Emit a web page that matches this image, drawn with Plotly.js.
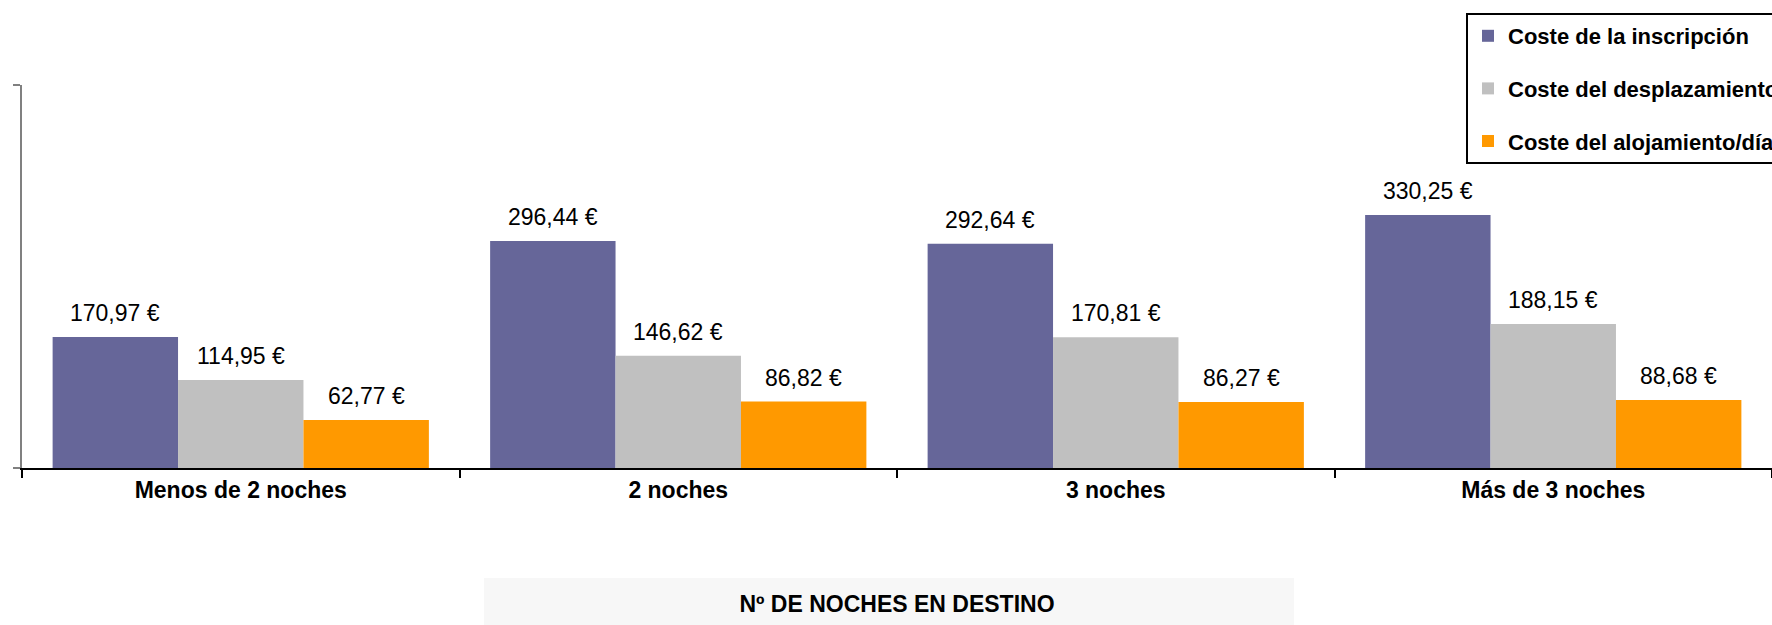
<!DOCTYPE html>
<html>
<head>
<meta charset="utf-8">
<script src="https://cdn.plot.ly/plotly-3.0.1.min.js"></script>
<style>html,body{margin:0;padding:0;overflow:hidden;background:#fff}</style>
</head>
<body>
<div id="chart" style="width:1772px;height:625px"></div>
<script>
const categories = ["Menos de 2 noches", "2 noches", "3 noches", "Más de 3 noches"];
const seriesNames = ["Coste de la inscripción", "Coste del desplazamiento", "Coste del alojamiento/día"];
const inscripcion = [170.97, 296.44, 292.64, 330.25];
const desplazamiento = [114.95, 146.62, 170.81, 188.15];
const alojamiento = [62.77, 86.82, 86.27, 88.68];
const colors = ["#666699", "#C0C0C0", "#FF9900"];
const xTitle = "Nº DE NOCHES EN DESTINO";

const FONT = '"Liberation Sans", Arial, sans-serif';
const allSeries = [inscripcion, desplazamiento, alojamiento];
const bargap = 0.14;

const traces = allSeries.map((vals, i) => ({
  type: 'bar',
  name: seriesNames[i],
  x: categories,
  y: vals,
  marker: {color: colors[i], line: {width: 0}},
  legendgroup: 'g' + i,
  hoverinfo: 'x+y+name'
}));

const nS = allSeries.length;
const barW = (1 - bargap) / nS;
const annotations = [];
allSeries.forEach((vals, i) => {
  vals.forEach((v, j) => {
    annotations.push({
      xref: 'x', yref: 'y',
      x: j + (i - (nS - 1) / 2) * barW,
      y: v,
      text: v.toFixed(2).replace('.', ',') + ' €',
      showarrow: false,
      xanchor: 'center', yanchor: 'bottom',
      yshift: 9,
      font: {family: FONT, size: 23, color: '#000'}
    });
  });
});

const layout = {
  width: 1772, height: 625,
  margin: {l: 22, r: 0, t: 85, b: 157, autoexpand: false},
  paper_bgcolor: '#fff', plot_bgcolor: '#fff',
  barmode: 'group', bargap: bargap, bargroupgap: 0,
  showlegend: true,
  legend: {
    x: (1466 - 22) / 1750, xanchor: 'left',
    y: (468 - 13) / 383, yanchor: 'top',
    bordercolor: '#000', borderwidth: 2, bgcolor: '#fff',
    font: {family: FONT, size: 22, color: '#000', weight: 'bold'},
    tracegroupgap: 21
  },
  xaxis: {
    type: 'category',
    showline: true, linecolor: '#000', linewidth: 2,
    ticks: 'outside', tickson: 'boundaries', ticklen: 8, tickwidth: 2, tickcolor: '#000',
    tickfont: {family: FONT, size: 23, color: '#000', weight: 'bold'},
    showgrid: false, zeroline: false,
    title: {text: xTitle, font: {family: FONT, size: 23, color: '#000', weight: 'bold'}, standoff: 94},
    automargin: false
  },
  yaxis: {
    range: [0, 500],
    showline: true, linecolor: '#808080', linewidth: 2,
    ticks: 'outside', ticklen: 7, tickwidth: 2, tickcolor: '#808080',
    tickvals: [0, 500], showticklabels: false,
    showgrid: false, zeroline: false,
    automargin: false
  },
  shapes: [{
    type: 'rect', xref: 'paper', yref: 'paper', layer: 'below',
    x0: (484 - 22) / 1750, x1: (1294 - 22) / 1750,
    y0: (468 - 630) / 383, y1: (468 - 578) / 383,
    fillcolor: '#F7F7F7', line: {width: 0}
  }],
  annotations: annotations
};

Plotly.newPlot('chart', traces, layout, {displayModeBar: false, responsive: false});
</script>
</body>
</html>
